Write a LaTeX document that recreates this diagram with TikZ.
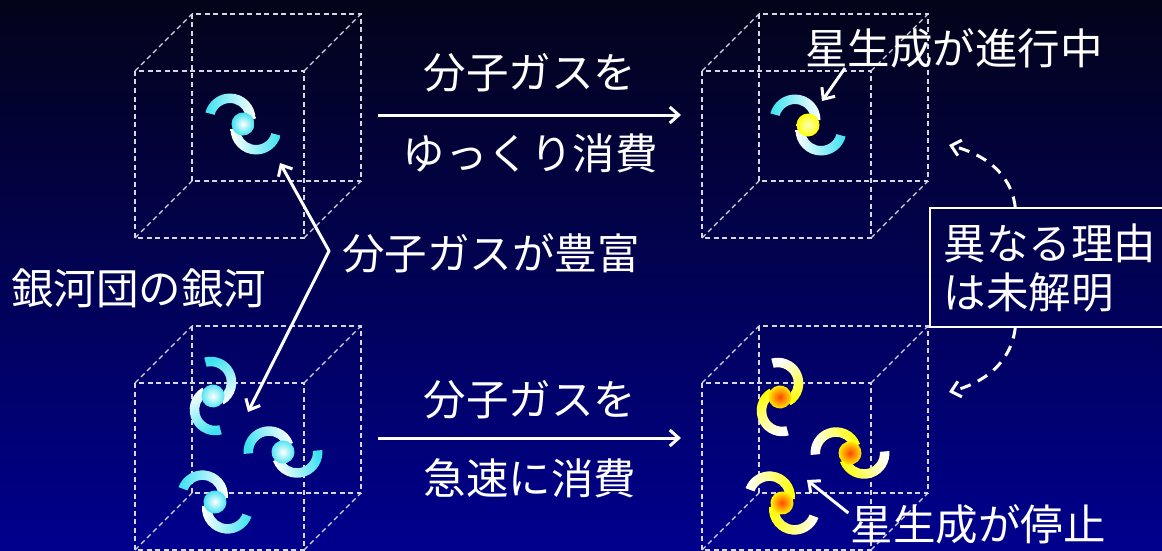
\documentclass[tikz,border=0pt]{standalone}
\usepackage{fontspec}
\setmainfont{Noto Sans CJK JP}
\usetikzlibrary{arrows.meta}

\definecolor{skytop}{RGB}{3,3,26}
\definecolor{skybottom}{RGB}{0,0,142}
\definecolor{gascyan}{RGB}{60,226,240}
\definecolor{hotcore}{RGB}{255,70,0}
\definecolor{boxgray}{RGB}{215,215,228}

\tikzset{
  boxline/.style={draw=boxgray, line width=1.3pt, dash pattern=on 5pt off 3.5pt},
  gasline/.style={draw=white, line width=3pt, line join=round},
  reasonline/.style={draw=white, line width=3pt, dash pattern=on 11pt off 8pt},
  jtext/.style={text=white, font=\fontsize{42.5}{49}\selectfont, inner sep=0pt},
}

% dashed box, #1 = top left corner of the front face
\newcommand{\gascube}[1]{%
  \begin{scope}[shift={#1}]
    \draw[boxline] (0,0) rectangle (169,-167);
    \draw[boxline] (57,57) rectangle (226,-110);
    \foreach \x/\y in {0/0,169/0,0/-167,169/-167}
      \draw[boxline] (\x,\y) -- ++(57,57);
  \end{scope}}

% two arms and a core: #1 centre, #2 turn, #3 arm tip, #4 arm root, #5 core, #6 core rim
\newcommand{\drawgalaxy}[6]{%
  \pgfmathsetmacro{\armang}{90+#2}
  \begin{scope}[shift={#1},rotate=#2]
    \shade[left color=#3,right color=#4,shading angle=\armang]
      (-13,5) ++(0:25.5) arc[start angle=0,end angle=165,radius=25.5]
      -- ++(165:-9.5) arc[start angle=165,end angle=0,radius=16] -- cycle;
    \shade[left color=#4,right color=#3,shading angle=\armang]
      (13,-5) ++(180:25.5) arc[start angle=180,end angle=345,radius=25.5]
      -- ++(345:-9.5) arc[start angle=345,end angle=180,radius=16] -- cycle;
    \shade[inner color=#5,outer color=#6] (0,0) circle[radius=11.5];
  \end{scope}}

\begin{document}
\begin{tikzpicture}[x=1pt,y=1pt,>={Straight Barb[length=9pt,width=16pt]}]
  \shade[top color=skytop,bottom color=skybottom] (0,0) rectangle (1162,-551);
  \useasboundingbox (0,0) rectangle (1162,-551);

  \gascube{(135,-71)}
  \gascube{(702,-71)}
  \gascube{(135,-383)}
  \gascube{(702,-383)}

  % gas rich, star forming slowly
  \drawgalaxy{(243,-124)}{0}{gascyan}{white}{white}{gascyan}
  \drawgalaxy{(808,-125)}{0}{gascyan}{white}{yellow!25!white}{yellow}

  % cluster members
  \foreach \gx/\gy/\ga in {213/-396/-60,283/-452/20,215/-502/-5}{
    \drawgalaxy{(\gx,\gy)}{\ga}{gascyan}{white}{white}{gascyan}
    \drawgalaxy{(\gx+567,\gy-1)}{\ga}{white}{yellow}{hotcore}{yellow}
  }

  % labels
  \node[jtext] (slowtop) at (530,-73) {分子ガスを};
  \node[jtext] (slowbot) at (530,-153) {ゆっくり消費};
  \node[jtext] (fasttop) at (530,-400) {分子ガスを};
  \node[jtext] (fastbot) at (530,-478) {急速に消費};
  \node[jtext] (rich) at (491,-253) {分子ガスが豊富};
  \node[jtext] (member) at (139,-288) {銀河団の銀河};
  \node[jtext] (active) at (954,-48) {星生成が進行中};
  \node[jtext] (quench) at (978,-524) {星生成が停止};
  \node[jtext, draw=white, line width=1.3pt, minimum width=240, minimum height=119,
        align=left] (reason) at (1050,-267.5) {異なる理由\\は未解明};

  % arrows
  \coordinate (slowfrom) at (378,-115);
  \coordinate (slowto) at (681,-115);
  \coordinate (fastfrom) at (378,-438);
  \coordinate (fastto) at (681,-438);
  \draw[gasline,->] (slowfrom) -- (slowto);
  \draw[gasline,->] (fastfrom) -- (fastto);

  \coordinate (richup) at (280,-163);
  \coordinate (richdown) at (248,-412);
  \draw[gasline,<->] (richup) -- ([xshift=-13pt,yshift=2pt]rich.west) -- (richdown);

  \coordinate (activetip) at (822,-101);
  \coordinate (quenchtip) at (807,-480);
  \draw[gasline,->] ([xshift=40pt]active.south west) -- (activetip);
  \draw[gasline,->] ([xshift=-2pt,yshift=11pt]quench.west) -- (quenchtip);

  \coordinate (upper) at (949,-145);
  \coordinate (lower) at (949,-392);
  \draw[reasonline,->] (reason.120) to[out=97,in=-15] (upper);
  \draw[reasonline,->] (reason.240) to[out=-97,in=15] (lower);
\end{tikzpicture}
\end{document}
